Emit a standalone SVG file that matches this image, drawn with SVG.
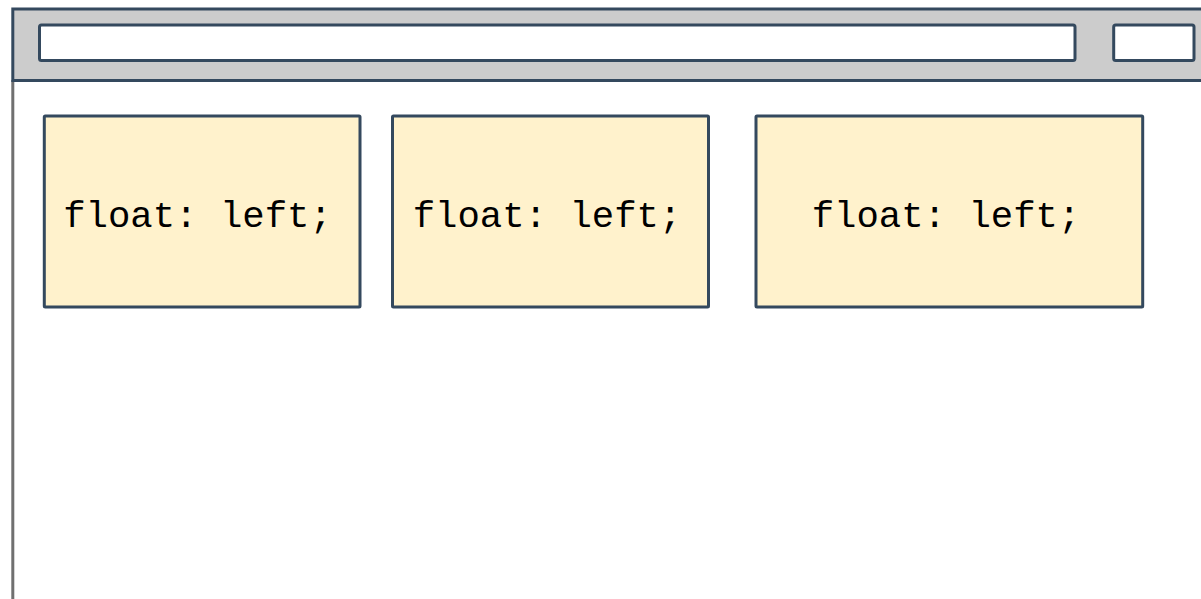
<svg xmlns="http://www.w3.org/2000/svg" width="1201" height="599" viewBox="0 0 1201 599">
<style>
.frame{fill:#cccccc;stroke:#34495e;stroke-width:3}
.field{fill:#ffffff;stroke:#34495e;stroke-width:3}
.box{fill:#fff2cc;stroke:#34495e;stroke-width:3}
.lbl{font-family:"Liberation Mono","Courier New",monospace;font-size:37.3px;fill:#000000;text-anchor:middle}
</style>
<rect width="1201" height="599" fill="#ffffff"/>
<g id="window">
<line x1="12.8" y1="80" x2="12.8" y2="599" stroke="#707070" stroke-width="3"/>
<rect class="frame" x="12.8" y="9" width="1200" height="71.5"/>
<rect class="field" x="39.5" y="25" width="1035.5" height="35.5" rx="2"/>
<rect class="field" x="1113.7" y="25" width="80.3" height="35.5" rx="2"/>
</g>
<g id="box1">
<rect class="box" x="44.3" y="116" width="315.7" height="191" rx="1"/>
<text class="lbl" x="197.5" y="226.5">float: left;</text>
</g>
<g id="box2">
<rect class="box" x="392.5" y="116" width="316" height="191" rx="1"/>
<text class="lbl" x="547" y="226.5">float: left;</text>
</g>
<g id="box3">
<rect class="box" x="756" y="116" width="386.7" height="191" rx="1"/>
<text class="lbl" x="946" y="226.5">float: left;</text>
</g>
<g id="connectors"/>
</svg>
